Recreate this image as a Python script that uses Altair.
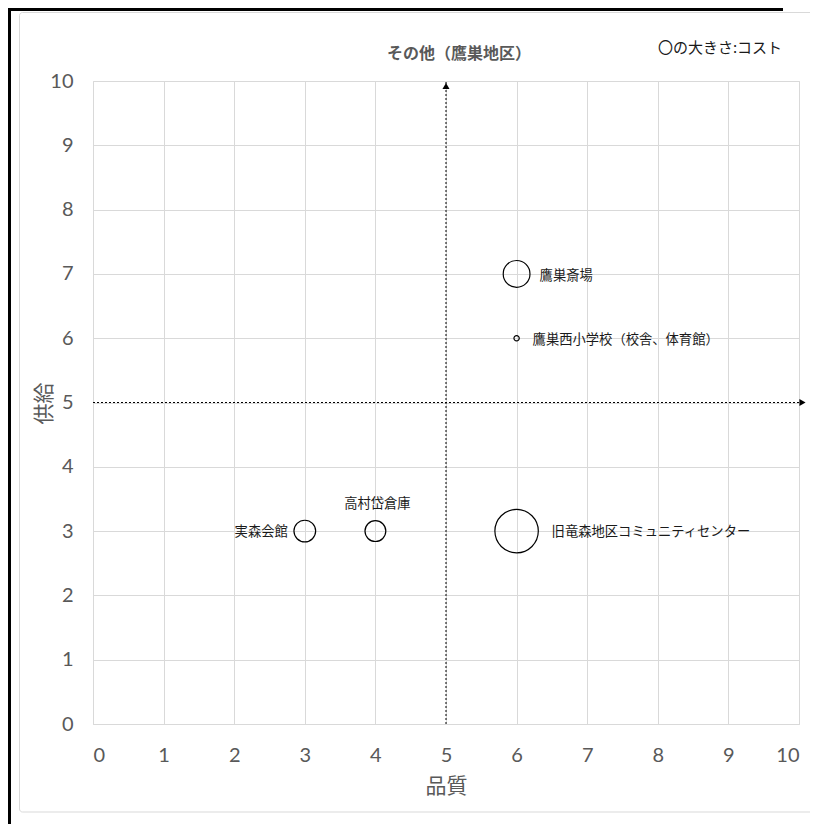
import altair as alt
import pandas as pd

# ---- data ----
names = ["鷹巣斎場", "鷹巣西小学校（校舎、体育館）", "実森会館", "高村岱倉庫", "旧竜森地区コミュニティセンター"]
quality = [6, 6, 3, 4, 6]          # 品質 (x)
supply = [7, 6, 3, 3, 3]           # 供給 (y)
cost = [38, 1.5, 25, 23, 100]      # relative cost (bubble area)
axis_ticks = list(range(0, 11))
chart_title = "その他（鷹巣地区）"
size_note = "〇の大きさ:コスト"

df = pd.DataFrame({"name": names, "品質": quality, "供給": supply, "コスト": cost})

W, H = 706, 643
JP = "Noto Sans CJK JP"
NUM = "Lato"
GRID = "#d9d9d9"
GREY = "#595959"

xs = alt.Scale(domain=[0, 10], nice=False, zero=False)
ys = alt.Scale(domain=[0, 10], nice=False, zero=False)

x_axis = alt.Axis(values=axis_ticks, format="d", grid=True, gridColor=GRID, domainColor=GRID,
                  ticks=False, tickSize=0, labelFont=NUM, labelFontSize=20, labelColor=GREY,
                  labelPadding=21, title="品質", titleFont=JP, titleFontSize=21,
                  titleFontWeight="normal", titleColor=GREY, labelAngle=0,
                  titleX=353, titleY=62, titleBaseline="middle", titleAlign="center")
y_axis = alt.Axis(values=axis_ticks, format="d", grid=True, gridColor=GRID, domain=False,
                  ticks=False, tickSize=0, labelFont=NUM, labelFontSize=20, labelColor=GREY,
                  labelPadding=20, title="供給", titleFont=JP, titleFontSize=21,
                  titleFontWeight="normal", titleColor=GREY,
                  titleX=-49, titleY=322, titleAngle=-90, titleBaseline="middle", titleAlign="center")

base = alt.Chart(df)

bubbles = base.mark_point(shape="circle", filled=False, stroke="black",
                          strokeWidth=1.2, opacity=1).encode(
    x=alt.X("品質:Q", scale=xs, axis=x_axis),
    y=alt.Y("供給:Q", scale=ys, axis=y_axis),
    size=alt.Size("コスト:Q", scale=alt.Scale(type="linear", domain=[0, 100], range=[0, 1886], zero=True),
                  legend=None),
)

label_style = {
    "鷹巣斎場": dict(align="left", dx=23, dy=2),
    "鷹巣西小学校（校舎、体育館）": dict(align="left", dx=16, dy=2),
    "実森会館": dict(align="right", dx=-17, dy=1),
    "高村岱倉庫": dict(align="center", dx=2, dy=-27),
    "旧竜森地区コミュニティセンター": dict(align="left", dx=35, dy=1),
}
labels = []
for n, st in label_style.items():
    labels.append(
        base.transform_filter(alt.datum.name == n).mark_text(
            font=JP, fontSize=13.3, color="#1a1a1a", baseline="middle", **st
        ).encode(x=alt.X("品質:Q", scale=xs), y=alt.Y("供給:Q", scale=ys), text="name:N")
    )

# reference cross (dotted arrows at 5,5)
mid = pd.DataFrame({"v": [5], "lo": [0], "hi": [10], "hi2": [10.05]})
mbase = alt.Chart(mid)
vline = mbase.mark_rule(color="black", strokeWidth=1, strokeDash=[2, 2]).encode(
    x=alt.X("v:Q", scale=xs), y=alt.Y("lo:Q", scale=ys), y2="hi:Q")
hline = mbase.mark_rule(color="black", strokeWidth=1, strokeDash=[2, 2]).encode(
    y=alt.Y("v:Q", scale=ys), x=alt.X("lo:Q", scale=xs), x2="hi2:Q")
vhead = mbase.mark_point(shape="triangle-up", filled=True, color="black", size=50, opacity=1).encode(
    x=alt.X("v:Q", scale=xs), y=alt.Y("hi:Q", scale=ys), yOffset=alt.value(5))
hhead = mbase.mark_point(shape="triangle-right", filled=True, color="black", size=50, opacity=1).encode(
    x=alt.X("hi2:Q", scale=xs), y=alt.Y("v:Q", scale=ys))

# annotations
tdf = pd.DataFrame({"t": [chart_title], "n": [size_note]})
tbase = alt.Chart(tdf)
title_txt = tbase.mark_text(font=JP, fontSize=16, fontWeight="bold", color=GREY,
                            align="center", baseline="middle").encode(
    text="t:N", x=alt.value(366), y=alt.value(-27))
note_txt = tbase.mark_text(font=JP, fontSize=15, color="#1a1a1a",
                           align="center", baseline="middle").encode(
    text="n:N", x=alt.value(627), y=alt.value(-33))

# frames (decorative border of the original picture)
fdf = pd.DataFrame({"k": [0]})
fb = alt.Chart(fdf)
frame = [
    fb.mark_rect(color="black", strokeWidth=0).encode(
        x=alt.value(-85), x2=alt.value(-82), y=alt.value(-73), y2=alt.value(743)),
    fb.mark_rect(color="black", strokeWidth=0).encode(
        x=alt.value(-85), x2=alt.value(690), y=alt.value(-73), y2=alt.value(-70)),
    fb.mark_rect(fill="white", fillOpacity=0, stroke=GRID, strokeWidth=1, cornerRadius=3).encode(
        x=alt.value(-73.5), x2=alt.value(722), y=alt.value(-68.5), y2=alt.value(731)),
]

chart = alt.layer(
    *frame, bubbles, vline, hline, vhead, hhead, *labels, title_txt, note_txt
).properties(
    width=W, height=H,
    autosize=alt.AutoSizeParams(type="none"),
    padding={"left": 85, "top": 73, "right": 11, "bottom": 100},
).configure_view(stroke=None).configure(background="white")

chart.save("out.html", embed_options={"renderer": "svg", "actions": False})
